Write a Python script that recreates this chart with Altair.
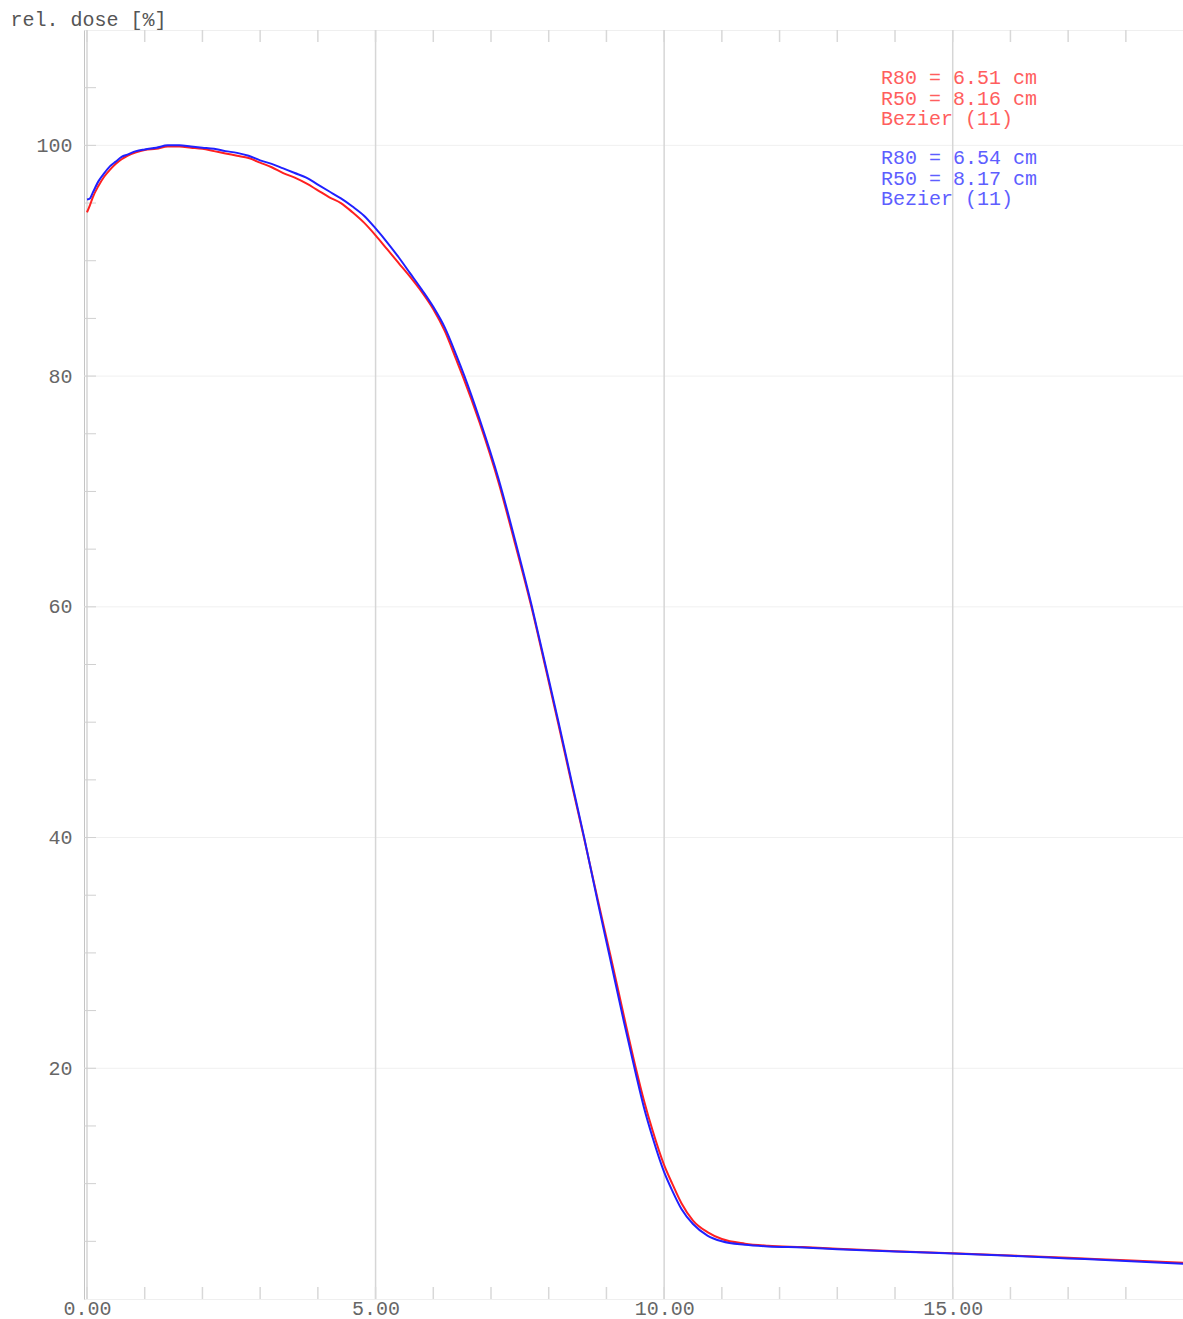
import altair as alt
import pandas as pd

# Depth-dose curves (depth in cm, relative dose in %)
red_depth = [0.00, 0.05, 0.10, 0.20, 0.30, 0.40, 0.50, 0.60, 0.70, 0.85, 1.00, 1.20, 1.40, 1.60,
             1.80, 2.00, 2.20, 2.40, 2.60, 2.80, 3.00, 3.20, 3.40, 3.60, 3.80, 4.00, 4.20, 4.40,
             4.60, 4.80, 5.00, 5.20, 5.40, 5.60, 5.80, 6.00, 6.20, 6.40, 6.51, 6.80, 7.13, 7.40,
             7.70, 7.95, 8.16, 8.40, 8.61, 8.85, 9.06, 9.30, 9.51, 9.65, 9.80, 10.00, 10.14, 10.30,
             10.50, 10.75, 11.00, 11.40, 11.80, 12.40, 13.00, 14.00, 15.00, 16.00, 17.00, 18.00,
             19.00]
red_dose = [94.2, 94.8, 95.5, 96.5, 97.3, 97.9, 98.4, 98.8, 99.1, 99.4, 99.6, 99.7, 99.9, 99.9,
            99.8, 99.7, 99.5, 99.3, 99.1, 98.9, 98.5, 98.1, 97.6, 97.2, 96.7, 96.1, 95.5, 95.0,
            94.2, 93.3, 92.2, 91.0, 89.8, 88.6, 87.3, 85.8, 83.9, 81.4, 80.0, 76.0, 70.8, 65.8,
            60.0, 54.6, 50.0, 44.6, 40.0, 34.6, 30.0, 24.6, 20.0, 17.2, 14.6, 11.6, 10.0, 8.3,
            6.8, 5.8, 5.2, 4.8, 4.62, 4.5, 4.36, 4.14, 3.96, 3.77, 3.57, 3.35, 3.15]

blue_depth = [0.00, 0.05, 0.10, 0.20, 0.30, 0.40, 0.50, 0.60, 0.70, 0.85, 1.00, 1.20, 1.40, 1.60,
              1.80, 2.00, 2.20, 2.40, 2.60, 2.80, 3.00, 3.20, 3.40, 3.60, 3.80, 4.00, 4.20, 4.40,
              4.60, 4.80, 5.00, 5.20, 5.40, 5.60, 5.80, 6.00, 6.20, 6.40, 6.54, 6.80, 7.13, 7.40,
              7.70, 7.95, 8.17, 8.40, 8.61, 8.85, 9.06, 9.30, 9.51, 9.65, 9.80, 10.00, 10.14, 10.30,
              10.50, 10.75, 11.00, 11.40, 11.80, 12.40, 13.00, 14.00, 15.00, 16.00, 17.00, 18.00,
              19.00]
blue_dose = [95.3, 95.4, 95.9, 96.9, 97.6, 98.2, 98.6, 99.0, 99.2, 99.5, 99.65, 99.8, 100.0, 100.0,
             99.9, 99.8, 99.7, 99.5, 99.35, 99.1, 98.7, 98.4, 98.0, 97.6, 97.2, 96.6, 96.0, 95.4,
             94.7, 93.9, 92.8, 91.6, 90.3, 88.9, 87.5, 86.0, 84.2, 81.8, 80.0, 76.3, 71.1, 66.1,
             60.2, 54.8, 50.0, 44.8, 40.1, 34.4, 29.6, 24.1, 19.5, 16.6, 14.0, 11.0, 9.4, 7.8,
             6.5, 5.5, 5.0, 4.7, 4.56, 4.46, 4.32, 4.11, 3.94, 3.74, 3.52, 3.3, 3.05]

# Range parameters quoted for each curve
red_r80, red_r50 = 6.51, 8.16
blue_r80, blue_r50 = 6.54, 8.17
fit_label = "Bezier (11)"

x_labels = [0, 5, 10, 15]
x_grid = [0, 5, 10, 15]
x_minor = list(range(0, 19))
y_labels = [20, 40, 60, 80, 100]
y_minor = list(range(5, 110, 5))

W, H = 1099, 1269
MONO = "Liberation Mono"
RED_LINE, BLUE_LINE = "#ff2020", "#2020ff"
RED_TXT, BLUE_TXT = "#ff5e5e", "#5e5eff"

xs = alt.Scale(domain=[-0.052, 18.99], nice=False, zero=False)
ys = alt.Scale(domain=[0, 110], nice=False)

curves = pd.concat([
    pd.DataFrame({"depth": red_depth, "dose": red_dose, "curve": "a"}),
    pd.DataFrame({"depth": blue_depth, "dose": blue_dose, "curve": "b"}),
])

# main axes (labels only; ticks and grid drawn as rules below)
base_axes = alt.Chart(pd.DataFrame({"depth": [0.0], "dose": [0.0]})).mark_point(opacity=0).encode(
    x=alt.X("depth:Q", scale=xs,
            axis=alt.Axis(values=x_labels, format=".2f", ticks=False, domain=False, grid=False,
                          labelFont=MONO, labelFontSize=20, labelColor="#666",
                          labelBaseline="middle", labelPadding=9, title=None)),
    y=alt.Y("dose:Q", scale=ys,
            axis=alt.Axis(values=y_labels, format="d", ticks=False, domain=True,
                          domainColor="#c4c4c4", domainWidth=1, grid=False,
                          labelFont=MONO, labelFontSize=20, labelColor="#666", labelPadding=12,
                          title="rel. dose [%]", titleAngle=0, titleAlign="left",
                          titleBaseline="alphabetic", titleX=-74, titleY=-5,
                          titleFont=MONO, titleFontSize=20, titleFontWeight="normal",
                          titleColor="#555")),
)

hgrid = alt.Chart(pd.DataFrame({"dose": y_labels})).mark_rule(color="#f0f0f0", strokeWidth=1).encode(
    y=alt.Y("dose:Q", scale=ys))

vgrid = alt.Chart(pd.DataFrame({"depth": x_grid})).mark_rule(color="#d6d6d6", strokeWidth=1.5).encode(
    x=alt.X("depth:Q", scale=xs))

minor_df = pd.DataFrame({"depth": x_minor})
top_ticks = alt.Chart(minor_df).mark_rule(color="#d8d8d8", strokeWidth=1.5).encode(
    x=alt.X("depth:Q", scale=xs), y=alt.value(0), y2=alt.value(12))
bottom_ticks = alt.Chart(minor_df).mark_rule(color="#d8d8d8", strokeWidth=1.5).encode(
    x=alt.X("depth:Q", scale=xs), y=alt.value(H - 12), y2=alt.value(H))
left_ticks = alt.Chart(pd.DataFrame({"dose": y_minor})).mark_rule(color="#d0d0d0", strokeWidth=1).encode(
    y=alt.Y("dose:Q", scale=ys), x=alt.value(0), x2=alt.value(12))

lines = alt.Chart(curves).mark_line(strokeWidth=2, interpolate="monotone").encode(
    x=alt.X("depth:Q", scale=xs),
    y=alt.Y("dose:Q", scale=ys),
    color=alt.Color("curve:N", scale=alt.Scale(domain=["a", "b"], range=[RED_LINE, BLUE_LINE]),
                    legend=None),
    order=alt.Order("depth:Q"),
    detail="curve:N",
)

red_text = alt.Chart(pd.DataFrame({"k": [0]})).mark_text(
    align="left", baseline="top", font=MONO, fontSize=20, lineHeight=20.5, color=RED_TXT
).encode(
    x=alt.value(797), y=alt.value(38),
    text=alt.value([f"R80 = {red_r80:.2f} cm", f"R50 = {red_r50:.2f} cm", fit_label]),
)
blue_text = alt.Chart(pd.DataFrame({"k": [0]})).mark_text(
    align="left", baseline="top", font=MONO, fontSize=20, lineHeight=20.5, color=BLUE_TXT
).encode(
    x=alt.value(797), y=alt.value(118),
    text=alt.value([f"R80 = {blue_r80:.2f} cm", f"R50 = {blue_r50:.2f} cm", fit_label]),
)

chart = alt.layer(
    hgrid, vgrid, top_ticks, bottom_ticks, left_ticks, base_axes, lines, red_text, blue_text
).properties(
    width=W, height=H,
    autosize=alt.AutoSizeParams(type="none"),
    padding={"left": 84, "top": 30, "right": 0, "bottom": 20},
    background="white",
).configure_view(stroke="#efefef", strokeWidth=1)

chart.save("out.html", embed_options={"renderer": "svg", "actions": False})
